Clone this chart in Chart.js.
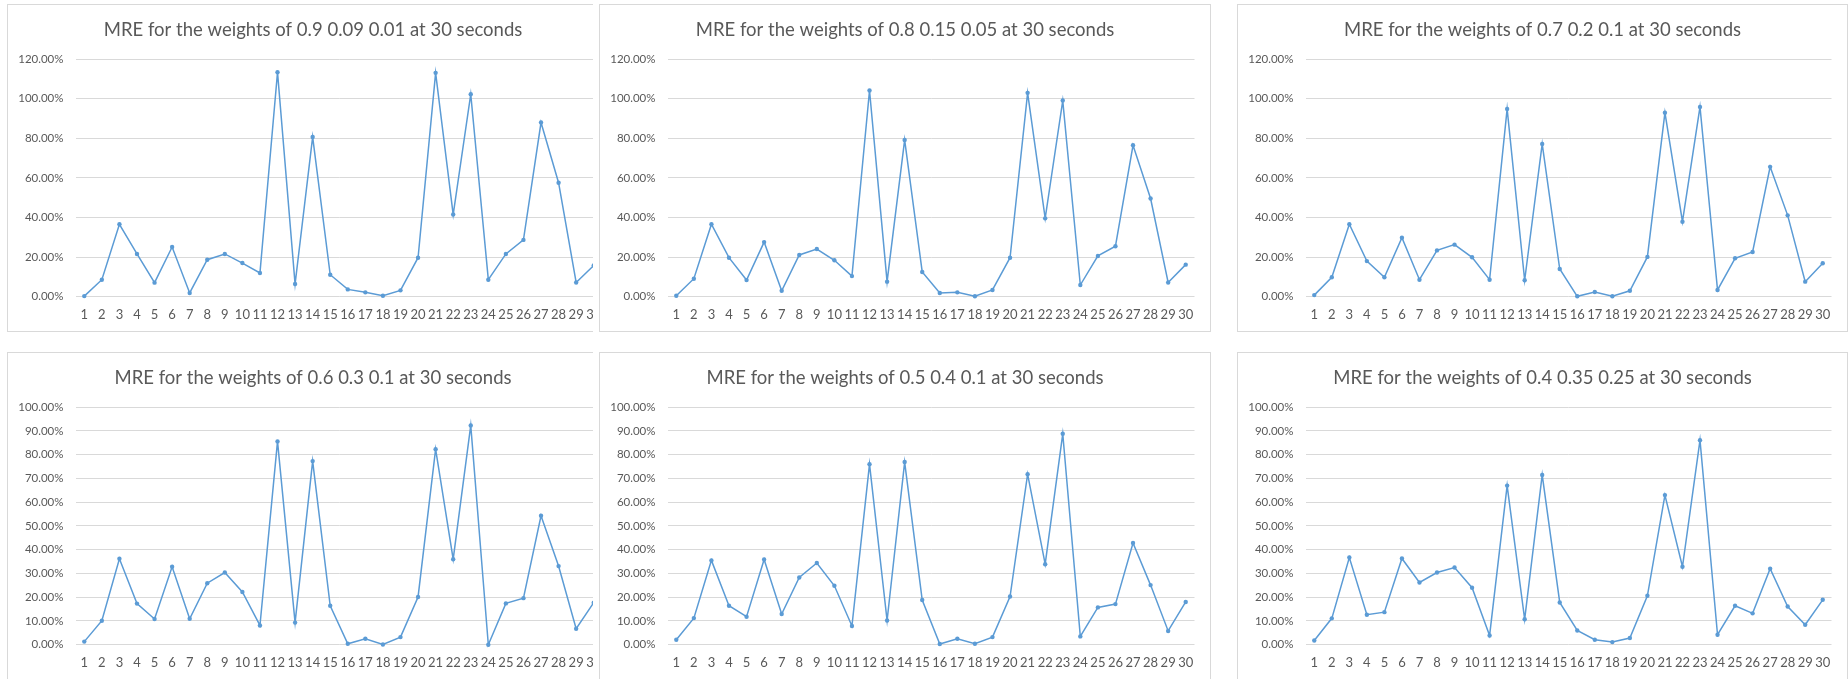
<!DOCTYPE html>
<html>
<head>
<meta charset="utf-8">
<script src="https://cdn.jsdelivr.net/npm/chart.js"></script>
<style>
body { margin: 0; background: #fff; width: 1848px; height: 679px; overflow: hidden; position: relative; }
.clip { position: absolute; overflow: hidden; height: 328px; }
.box { position: absolute; left: 0; top: 0; height: 328px; border: 1px solid #d9d9d9; box-sizing: border-box; background: #fff; }
canvas { display: block; }
</style>
</head>
<body>
<div class="clip" style="left:7px;top:4px;width:586px"><div class="box" style="width:612px"><canvas id="c1" width="610" height="326"></canvas></div></div>
<div class="clip" style="left:599px;top:4px;width:612px"><div class="box" style="width:612px"><canvas id="c2" width="610" height="326"></canvas></div></div>
<div class="clip" style="left:1237px;top:4px;width:611px"><div class="box" style="width:611px"><canvas id="c3" width="609" height="326"></canvas></div></div>
<div class="clip" style="left:7px;top:352px;width:586px"><div class="box" style="width:612px"><canvas id="c4" width="610" height="326"></canvas></div></div>
<div class="clip" style="left:599px;top:352px;width:612px"><div class="box" style="width:612px"><canvas id="c5" width="610" height="326"></canvas></div></div>
<div class="clip" style="left:1237px;top:352px;width:611px"><div class="box" style="width:611px"><canvas id="c6" width="609" height="326"></canvas></div></div>
<script>
// run number 1..30
const runs = ["1","2","3","4","5","6","7","8","9","10","11","12","13","14","15","16","17","18","19","20","21","22","23","24","25","26","27","28","29","30"]

// MRE values (fraction, 1 = 100%)
const w090_009_001 = [0.003,0.086,0.366,0.216,0.071,0.251,0.019,0.187,0.216,0.170,0.120,1.134,0.064,0.807,0.111,0.037,0.022,0.005,0.032,0.197,1.131,0.415,1.023,0.086,0.216,0.287,0.880,0.576,0.072,0.158]
const w080_015_005 = [0.005,0.091,0.366,0.197,0.084,0.276,0.030,0.211,0.241,0.184,0.104,1.042,0.076,0.792,0.125,0.019,0.022,0.002,0.034,0.197,1.030,0.396,0.991,0.059,0.206,0.255,0.765,0.496,0.072,0.162]
const w070_020_010 = [0.008,0.098,0.366,0.180,0.098,0.298,0.086,0.234,0.263,0.199,0.086,0.949,0.083,0.772,0.140,0.002,0.024,0.002,0.030,0.201,0.930,0.379,0.959,0.034,0.194,0.226,0.656,0.411,0.076,0.169]
const w060_030_010 = [0.013,0.101,0.362,0.173,0.108,0.328,0.109,0.259,0.304,0.222,0.081,0.856,0.093,0.773,0.164,0.004,0.025,0.001,0.032,0.201,0.823,0.360,0.923,0.000,0.174,0.196,0.543,0.331,0.067,0.177]
const w050_040_010 = [0.021,0.112,0.355,0.164,0.118,0.359,0.129,0.283,0.344,0.248,0.079,0.760,0.102,0.769,0.188,0.003,0.025,0.004,0.032,0.203,0.718,0.339,0.888,0.035,0.157,0.171,0.428,0.251,0.058,0.180]
const w040_035_025 = [0.018,0.111,0.367,0.126,0.137,0.363,0.262,0.304,0.325,0.240,0.039,0.670,0.107,0.715,0.178,0.060,0.021,0.011,0.028,0.206,0.630,0.328,0.861,0.042,0.164,0.132,0.320,0.161,0.084,0.189]

const titles = [
  "MRE for the weights of 0.9 0.09 0.01 at 30 seconds",
  "MRE for the weights of 0.8 0.15 0.05 at 30 seconds",
  "MRE for the weights of 0.7 0.2 0.1 at 30 seconds",
  "MRE for the weights of 0.6 0.3 0.1 at 30 seconds",
  "MRE for the weights of 0.5 0.4 0.1 at 30 seconds",
  "MRE for the weights of 0.4 0.35 0.25 at 30 seconds"
]

const grey = "#595959"
const blue = "#5b9bd5"
const fontName = "Lato, 'Open Sans', sans-serif"

function mreChart(id, title, values, yMax, yStep)
{
  new Chart(id, {
    type: "line",
    data: {
      labels: runs,
      datasets: [{
        data: values,
        borderColor: blue,
        backgroundColor: blue,
        borderWidth: 1.5,
        pointRadius: 2.2,
        pointBorderWidth: 0,
        tension: 0,
        fill: false,
        clip: false
      }]
    },
    options: {
      responsive: false,
      animation: false,
      layout: {padding: {left: 4, right: 4, top: 0, bottom: 0}},
      plugins: {
        legend: {display: false},
        tooltip: {enabled: false},
        title: {
          display: true,
          text: title,
          color: grey,
          font: {family: fontName, size: 18.5, weight: "normal"},
          padding: {top: 14, bottom: 18}
        }
      },
      scales: {
        x: {
          offset: true,
          grid: {display: false, drawTicks: false},
          border: {display: false},
          ticks: {color: grey, font: {family: fontName, size: 13}, maxRotation: 0, autoSkip: false, padding: 10.4},
          afterFit: function(s) { s.height = 34.3 }
        },
        y: {
          min: 0,
          max: yMax,
          grid: {color: "#d9d9d9", drawTicks: false},
          border: {display: false},
          ticks: {
            stepSize: yStep,
            color: grey,
            font: {family: fontName, size: 11.5},
            padding: 12,
            callback: function(v) { return (v * 100).toFixed(2) + "%" }
          },
          afterFit: function(s) { s.width = 63.5 }
        },
        // empty margin on the right of the plot
        yRight: {
          position: "right",
          grid: {display: false, drawTicks: false},
          border: {display: false},
          ticks: {display: false},
          afterFit: function(s) { s.width = 11.5 }
        }
      }
    }
  });
}

mreChart("c1", titles[0], w090_009_001, 1.2, 0.2)
mreChart("c2", titles[1], w080_015_005, 1.2, 0.2)
mreChart("c3", titles[2], w070_020_010, 1.2, 0.2)
mreChart("c4", titles[3], w060_030_010, 1.0, 0.1)
mreChart("c5", titles[4], w050_040_010, 1.0, 0.1)
mreChart("c6", titles[5], w040_035_025, 1.0, 0.1)
</script>
</body>
</html>
